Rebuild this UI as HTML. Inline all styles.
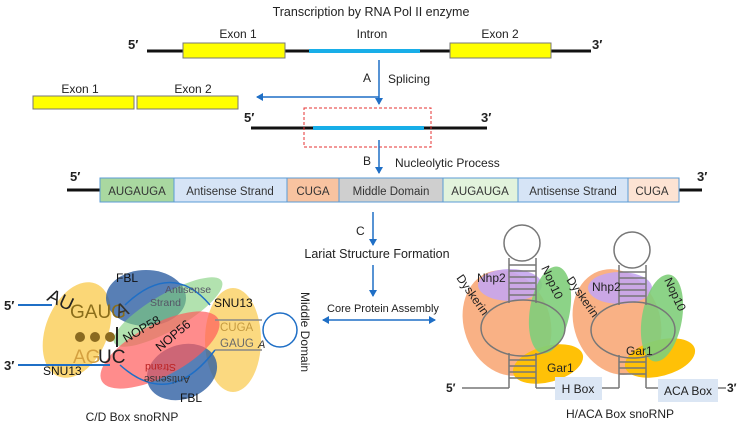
<!DOCTYPE html>
<html><head><meta charset="utf-8"><style>
html,body{margin:0;padding:0;background:#fff;}
svg{display:block;font-family:"Liberation Sans",sans-serif;}
</style></head><body>
<svg width="742" height="429" viewBox="0 0 742 429" xmlns="http://www.w3.org/2000/svg">
<defs>
<marker id="ah" markerWidth="8" markerHeight="8" refX="6" refY="4" orient="auto" markerUnits="userSpaceOnUse"><path d="M0,0 L7,4 L0,8 z" fill="#1f6fc6"/></marker>
<marker id="ahs" markerWidth="8" markerHeight="8" refX="1" refY="4" orient="auto" markerUnits="userSpaceOnUse"><path d="M7,0 L0,4 L7,8 z" fill="#1f6fc6"/></marker>
</defs>
<text x="371" y="16" font-size="12.5" text-anchor="middle" fill="#222">Transcription by RNA Pol II enzyme</text>
<text x="128" y="49" font-size="13" font-weight="bold" fill="#222">5′</text>
<text x="592" y="49" font-size="13" font-weight="bold" fill="#222">3′</text>
<line x1="147" y1="51" x2="591" y2="51" stroke="#111" stroke-width="3"/>
<line x1="309" y1="51" x2="420" y2="51" stroke="#18aee8" stroke-width="4"/>
<rect x="183" y="43" width="102" height="15" fill="#ffff00" stroke="#777" stroke-width="1"/>
<rect x="450" y="43" width="101" height="15" fill="#ffff00" stroke="#777" stroke-width="1"/>
<text x="238" y="38" font-size="12" text-anchor="middle" fill="#222">Exon 1</text>
<text x="372" y="38" font-size="12" text-anchor="middle" fill="#222">Intron</text>
<text x="500" y="38" font-size="12" text-anchor="middle" fill="#222">Exon 2</text>
<line x1="379" y1="60" x2="379" y2="104" stroke="#1f6fc6" stroke-width="1.5" marker-end="url(#ah)"/>
<line x1="379" y1="97" x2="257" y2="97" stroke="#1f6fc6" stroke-width="1.5" marker-end="url(#ah)"/>
<text x="363" y="82" font-size="12" fill="#222">A</text>
<text x="388" y="83" font-size="12" fill="#222">Splicing</text>
<text x="80" y="93" font-size="12" text-anchor="middle" fill="#222">Exon 1</text>
<text x="193" y="93" font-size="12" text-anchor="middle" fill="#222">Exon 2</text>
<rect x="33" y="96" width="101" height="13" fill="#ffff00" stroke="#777"/>
<rect x="137" y="96" width="101" height="13" fill="#ffff00" stroke="#777"/>
<text x="244" y="122" font-size="13" font-weight="bold" fill="#222">5′</text>
<text x="481" y="122" font-size="13" font-weight="bold" fill="#222">3′</text>
<line x1="251" y1="128" x2="487" y2="128" stroke="#111" stroke-width="3"/>
<line x1="313" y1="128" x2="424" y2="128" stroke="#18aee8" stroke-width="4"/>
<rect x="304" y="108" width="127" height="39" fill="none" stroke="#e53030" stroke-width="1" stroke-dasharray="3,2"/>
<line x1="379" y1="140" x2="379" y2="173" stroke="#1f6fc6" stroke-width="1.5" marker-end="url(#ah)"/>
<text x="363" y="165" font-size="12" fill="#222">B</text>
<text x="395" y="167" font-size="12" fill="#222">Nucleolytic Process</text>
<text x="70" y="181" font-size="13" font-weight="bold" fill="#222">5′</text>
<text x="697" y="181" font-size="13" font-weight="bold" fill="#222">3′</text>
<line x1="67" y1="190" x2="702" y2="190" stroke="#111" stroke-width="3"/>
<g stroke="#5b9bd5" stroke-width="1">
<rect x="100" y="178" width="74" height="24" fill="#a9d8a0"/>
<rect x="174" y="178" width="113" height="24" fill="#d6e4f6"/>
<rect x="287" y="178" width="52" height="24" fill="#f8c3a0"/>
<rect x="339" y="178" width="104" height="24" fill="#cfcfcf"/>
<rect x="443" y="178" width="75" height="24" fill="#e2f3dc"/>
<rect x="518" y="178" width="110" height="24" fill="#d6e4f6"/>
<rect x="628" y="178" width="51" height="24" fill="#fde3d3"/>
</g>
<g font-size="11.5" fill="#333" text-anchor="middle">
<text x="137" y="195">AUGAUGA</text><text x="230" y="195">Antisense Strand</text>
<text x="313" y="195">CUGA</text><text x="391" y="195">Middle Domain</text>
<text x="480" y="195">AUGAUGA</text><text x="573" y="195">Antisense Strand</text>
<text x="652" y="195">CUGA</text>
</g>
<line x1="373" y1="212" x2="373" y2="245" stroke="#1f6fc6" stroke-width="1.5" marker-end="url(#ah)"/>
<text x="356" y="235" font-size="12" fill="#222">C</text>
<text x="377" y="258" font-size="12.5" text-anchor="middle" fill="#222">Lariat Structure Formation</text>
<line x1="373" y1="265" x2="373" y2="296" stroke="#1f6fc6" stroke-width="1.5" marker-end="url(#ah)"/>
<text x="383" y="312" font-size="11" text-anchor="middle" fill="#222">Core Protein Assembly</text>
<line x1="323" y1="320" x2="435" y2="320" stroke="#1f6fc6" stroke-width="1.5" marker-end="url(#ah)" marker-start="url(#ahs)"/>
<text transform="translate(301,292) rotate(90)" font-size="12" fill="#222">Middle Domain</text>
<g>
<ellipse cx="77" cy="330" rx="31" ry="50" transform="rotate(22 77 330)" fill="#f9c94a" fill-opacity="0.75"/>
<ellipse cx="146" cy="298" rx="40" ry="28" fill="#2e5fa3" fill-opacity="0.8"/>
<ellipse cx="168" cy="312" rx="62" ry="18" transform="rotate(-30 168 312)" fill="#7fce7a" fill-opacity="0.6"/>
<ellipse cx="233" cy="340" rx="28" ry="52" fill="#f9c94a" fill-opacity="0.7"/>
<ellipse cx="182" cy="372" rx="36" ry="27" transform="rotate(-20 182 372)" fill="#2e5fa3" fill-opacity="0.8"/>
<ellipse cx="160" cy="350" rx="66" ry="26" transform="rotate(-28 160 350)" fill="#ff5b5b" fill-opacity="0.7"/>
<line x1="18" y1="305" x2="52" y2="305" stroke="#1f6fc6" stroke-width="2"/>
<line x1="18" y1="365" x2="110" y2="365" stroke="#1f6fc6" stroke-width="2"/>
<path d="M125,305 Q172,260 210,305" fill="none" stroke="#1f6fc6" stroke-width="1.5"/>
<path d="M120,365 Q170,410 215,350" fill="none" stroke="#1f6fc6" stroke-width="1.5"/>
<line x1="215" y1="320" x2="262" y2="320" stroke="#888" stroke-width="1.5"/>
<line x1="215" y1="350" x2="262" y2="350" stroke="#888" stroke-width="1.5"/>
<circle cx="280" cy="330" r="17" fill="none" stroke="#1f6fc6" stroke-width="1.5"/>
<text x="4" y="310" font-size="13" font-weight="bold" fill="#222">5′</text>
<text x="4" y="370" font-size="13" font-weight="bold" fill="#222">3′</text>
<text transform="translate(46,300) rotate(25)" font-size="19" fill="#222">AU</text>
<text x="70" y="318" font-size="19" fill="#8a6d1a">GAUG</text>
<text transform="translate(118,318) rotate(-20)" font-size="19" fill="#333">A</text>
<circle cx="80" cy="337" r="5" fill="#8a6a20"/><circle cx="95" cy="337" r="5" fill="#8a6a20"/><circle cx="110" cy="337" r="5" fill="#8a6a20"/>
<line x1="117" y1="327" x2="117" y2="347" stroke="#222" stroke-width="2"/>
<text x="73" y="363" font-size="19" fill="#d4a040">AG</text><text x="98" y="363" font-size="19" fill="#222">UC</text>
<text x="116" y="282" font-size="12" fill="#111">FBL</text>
<text x="165" y="293" font-size="10.5" fill="#556">Antisense</text>
<text x="150" y="306" font-size="10.5" fill="#556">Strand</text>
<text transform="translate(126,343) rotate(-30)" font-size="12.5" fill="#111">NOP58</text>
<text transform="translate(160,352) rotate(-40)" font-size="12.5" fill="#111">NOP56</text>
<text x="214" y="307" font-size="12" fill="#111">SNU13</text>
<text x="220" y="331" font-size="11.5" fill="#c49a40">CUGA</text>
<text x="220" y="347" font-size="11.5" fill="#6a6a6a">GAUG</text>
<text x="258" y="348" font-size="11" font-style="italic" fill="#333">A</text>
<text transform="translate(176,364) rotate(180)" font-size="10.5" fill="#b22">Strand</text>
<text transform="translate(190,376) rotate(180)" font-size="10.5" fill="#333">Antisense</text>
<text x="180" y="402" font-size="12" fill="#111">FBL</text>
<text x="43" y="375" font-size="12" fill="#111">SNU13</text>
<text x="132" y="421" font-size="12" text-anchor="middle" fill="#222">C/D Box snoRNP</text>
</g>
<g>
<ellipse cx="507" cy="323" rx="43" ry="54" transform="rotate(-20 507 323)" fill="#f8a878" fill-opacity="0.9"/>
<ellipse cx="510" cy="285" rx="32" ry="16" fill="#c5a6f0" fill-opacity="0.9"/>
<ellipse cx="548" cy="364" rx="36" ry="18" transform="rotate(-15 548 364)" fill="#ffc107"/>
<ellipse cx="550" cy="310" rx="20" ry="44" transform="rotate(10 550 310)" fill="#7fce7a" fill-opacity="0.9"/>
<ellipse cx="617" cy="322" rx="43" ry="54" transform="rotate(-20 617 322)" fill="#f8a878" fill-opacity="0.9"/>
<ellipse cx="620" cy="288" rx="32" ry="16" fill="#c5a6f0" fill-opacity="0.9"/>
<ellipse cx="660" cy="358" rx="36" ry="18" transform="rotate(-15 660 358)" fill="#ffc107"/>
<ellipse cx="662" cy="318" rx="20" ry="44" transform="rotate(10 662 318)" fill="#7fce7a" fill-opacity="0.9"/>
<g fill="none" stroke="#777" stroke-width="1.5">
<circle cx="522" cy="243" r="18"/>
<ellipse cx="523" cy="328" rx="42" ry="28"/>
<path d="M509,258 V303 M536,258 V303 M509,353 V388 M536,353 V388"/>
<path d="M509,265H536M509,271H536M509,277H536M509,283H536M509,289H536M509,295H536M509,360H536M509,366H536M509,372H536M509,378H536"/>
<circle cx="632" cy="250" r="18"/>
<ellipse cx="633" cy="330" rx="42" ry="28"/>
<path d="M619,265 V305 M646,265 V305 M619,355 V388 M646,355 V388"/>
<path d="M619,272H646M619,278H646M619,284H646M619,290H646M619,296H646M619,362H646M619,368H646M619,374H646"/>
<path d="M462,388H509 M536,388H556 M601,388H619 M646,388H658 M718,388H726"/>
</g>
<rect x="555" y="377" width="47" height="23" fill="#dbe6f4"/>
<rect x="658" y="379" width="60" height="23" fill="#dbe6f4"/>
<text x="578" y="393" font-size="12" text-anchor="middle" fill="#222">H Box</text>
<text x="688" y="395" font-size="12" text-anchor="middle" fill="#222">ACA Box</text>
<text x="446" y="392" font-size="12" font-weight="bold" fill="#222">5′</text>
<text x="727" y="392" font-size="12" font-weight="bold" fill="#222">3′</text>
<text x="477" y="282" font-size="12" fill="#222">Nhp2</text>
<text x="592" y="291" font-size="12" fill="#222">Nhp2</text>
<text transform="translate(456,278) rotate(55)" font-size="12" fill="#222">Dyskerin</text>
<text transform="translate(566,280) rotate(55)" font-size="12" fill="#222">Dyskerin</text>
<text transform="translate(541,268) rotate(65)" font-size="12" fill="#222">Nop10</text>
<text transform="translate(664,280) rotate(65)" font-size="12" fill="#222">Nop10</text>
<text x="547" y="372" font-size="12" fill="#222">Gar1</text>
<text x="626" y="355" font-size="12" fill="#222">Gar1</text>
<text x="620" y="418" font-size="12" text-anchor="middle" fill="#222">H/ACA Box snoRNP</text>
</g>
</svg>
</body></html>
